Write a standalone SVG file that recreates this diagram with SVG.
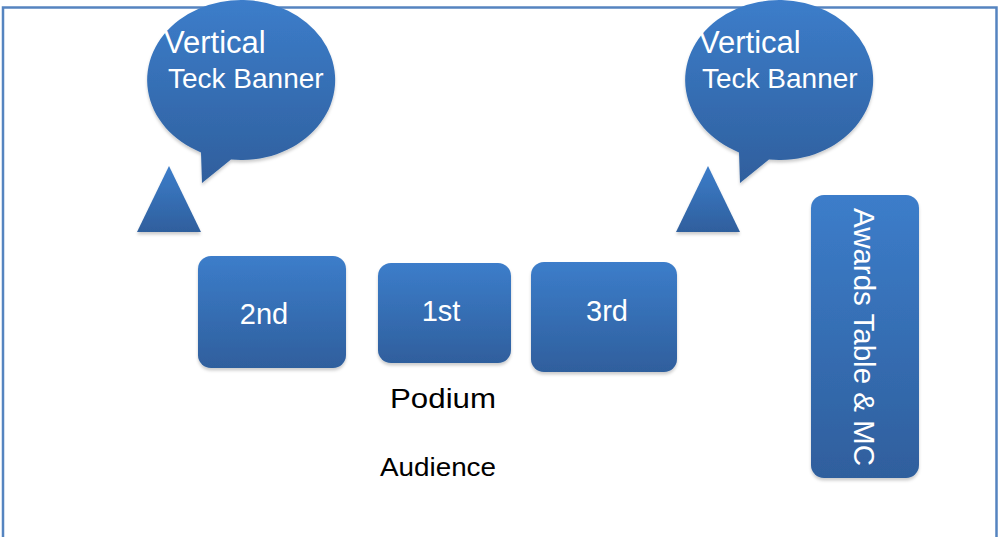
<svg xmlns="http://www.w3.org/2000/svg" width="998" height="537" viewBox="0 0 998 537">
<defs>
<linearGradient id="g" x1="0" y1="0" x2="0" y2="1">
<stop offset="0" stop-color="#3c7dca"/>
<stop offset="1" stop-color="#2f5f9d"/>
</linearGradient>
<filter id="sh" x="-10%" y="-10%" width="120%" height="125%">
<feDropShadow dx="0" dy="2.5" stdDeviation="1.5" flood-color="#000" flood-opacity="0.2"/>
</filter>
</defs>
<style>
.s{fill:url(#g);filter:url(#sh)}
.w{fill:#fff;font-family:"Liberation Sans",Arial,sans-serif}
.k{fill:#000;font-family:"Liberation Sans",Arial,sans-serif}
</style>
<rect x="0" y="0" width="998" height="537" fill="#fff"/>
<path d="M3 537 V7.5 H996.5 V537" fill="none" stroke="#5584c0" stroke-width="2.5"/>
<g id="banner-left">
<path class="s" d="M201 152.4 A94 80 0 1 1 231 159.6 L202 183 Z"/>
<text class="w" x="164" y="53" font-size="31">Vertical</text>
<text class="w" x="168" y="88" font-size="28">Teck Banner</text>
</g>
<g id="stand-left"><path class="s" d="M169 166 L201 232 L137 232 Z"/></g>
<g id="banner-right">
<path class="s" d="M739 152.4 A94 80 0 1 1 769 159.6 L740 183 Z"/>
<text class="w" x="699" y="53" font-size="31">Vertical</text>
<text class="w" x="702" y="88" font-size="28">Teck Banner</text>
</g>
<g id="stand-right"><path class="s" d="M708 166 L740 232 L676 232 Z"/></g>
<g id="second">
<rect class="s" x="198" y="256" width="148" height="112" rx="13"/>
<text class="w" x="264" y="324" font-size="29" text-anchor="middle">2nd</text>
</g>
<g id="first">
<rect class="s" x="378" y="263" width="133" height="100" rx="13"/>
<text class="w" x="441" y="321" font-size="29" text-anchor="middle">1st</text>
</g>
<g id="third">
<rect class="s" x="531" y="262" width="146" height="110" rx="13"/>
<text class="w" x="607" y="321" font-size="29" text-anchor="middle">3rd</text>
</g>
<g id="awards">
<rect class="s" x="811" y="195" width="108" height="283" rx="13"/>
<text class="w" font-size="29.5" text-anchor="middle" transform="translate(854 337) rotate(90)">Awards Table &amp; MC</text>
</g>
<g id="podium-label"><text class="k" x="390" y="408" font-size="28" textLength="106" lengthAdjust="spacingAndGlyphs">Podium</text></g>
<g id="audience-label"><text class="k" x="380" y="476" font-size="26" textLength="116" lengthAdjust="spacingAndGlyphs">Audience</text></g>
<g id="connectors"/>
</svg>
